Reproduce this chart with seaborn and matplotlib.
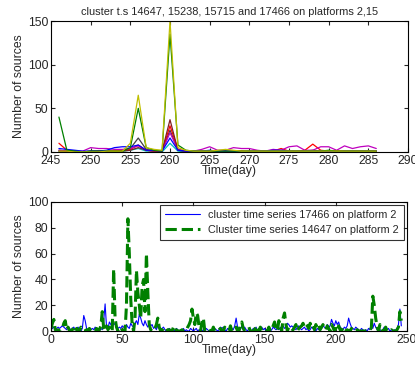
import numpy as np
import pandas as pd
import matplotlib
matplotlib.use("Agg")
import matplotlib.pyplot as plt
import seaborn as sns

sns.set_style("white")
plt.rcParams['font.family'] = ['Liberation Sans', 'DejaVu Sans']

# --- dados do grafico de cima (dias 246..286) ---
top_days = list(range(246, 287))

top_green = [40, 2, 1, 0, 1, 1, 1, 1, 1, 5, 50, 5, 2, 1, 135, 8, 2, 1, 1, 1, 1,
             1, 1, 1, 1, 1, 1, 1, 1, 1, 1, 1, 1, 1, 2, 1, 1, 1, 1, 1, 1]
top_yellow = [1, 1, 0, 0, 0, 0, 1, 1, 1, 10, 65, 5, 3, 2, 150, 5, 2, 1, 1, 1, 2,
              3, 2, 1, 1, 1, 1, 1, 1, 1, 1, 1, 1, 1, 1, 1, 1, 1, 1, 1, 1]
top_magenta = [2, 1, 1, 1, 5, 4, 4, 3, 3, 4, 7, 2, 1, 1, 22, 3, 1, 1, 3, 6, 2,
               2, 5, 4, 4, 2, 1, 3, 2, 6, 7, 2, 2, 6, 6, 2, 7, 4, 6, 7, 4]
top_red = [10, 2, 1, 0, 0, 1, 1, 1, 2, 3, 8, 2, 1, 1, 30, 3, 1, 0, 1, 1, 1,
           0, 1, 1, 0, 1, 1, 1, 4, 1, 1, 2, 9, 2, 1, 1, 1, 1, 1, 1, 1]
top_blue = [4, 3, 2, 1, 1, 1, 2, 5, 6, 6, 8, 2, 2, 1, 16, 2, 1, 1, 1, 2, 1,
            1, 1, 0, 1, 1, 1, 2, 2, 1, 1, 1, 1, 1, 1, 0, 1, 1, 1, 1, 1]
top_black = [2, 1, 1, 0, 1, 1, 1, 1, 2, 4, 16, 3, 1, 1, 25, 2, 1, 1, 1, 1, 1,
             1, 1, 1, 1, 1, 1, 1, 1, 1, 1, 1, 2, 1, 1, 1, 1, 1, 1, 1, 1]
top_brown = [1, 1, 1, 0, 1, 1, 1, 1, 1, 2, 5, 2, 1, 1, 37, 2, 1, 1, 1, 1, 1,
             1, 1, 1, 1, 1, 1, 1, 1, 1, 1, 1, 1, 1, 1, 1, 1, 1, 1, 1, 1]
top_cyan = [1, 1, 0, 0, 0, 0, 1, 1, 1, 2, 4, 1, 1, 0, 10, 1, 0, 0, 0, 1, 0,
            0, 0, 0, 0, 0, 0, 0, 1, 0, 0, 0, 0, 0, 0, 0, 0, 0, 0, 0, 0]

top_series = [
    (top_cyan, '#00bfbf'),
    (top_black, '#404040'),
    (top_red, '#ff0000'),
    (top_magenta, '#bf00bf'),
    (top_brown, '#7f2020'),
    (top_blue, '#0000ff'),
    (top_green, '#008000'),
    (top_yellow, '#bfbf00'),
]

# --- dados do grafico de baixo (dias 0..246) ---
bottom_days = list(range(0, 247))

series_17466 = [
    1, 2, 3, 1, 2, 3, 2, 3, 4, 3,
    2, 1, 3, 2, 1, 2, 3, 1, 2, 3,
    1, 0, 2, 12, 8, 2, 1, 0, 1, 2,
    1, 3, 2, 1, 0, 2, 1, 8, 21, 3,
    2, 7, 5, 3, 6, 5, 4, 2, 3, 2,
    4, 3, 2, 5, 3, 2, 6, 4, 3, 6,
    8, 5, 13, 10, 6, 4, 8, 5, 3, 6,
    4, 5, 2, 3, 1, 4, 2, 1, 2, 3,
    1, 0, 1, 2, 1, 0, 1, 0, 2, 1,
    0, 1, 0, 2, 0, 1, 0, 0, 2, 1,
    0, 1, 2, 0, 1, 0, 0, 1, 0, 2,
    1, 0, 0, 1, 0, 2, 1, 0, 1, 3,
    2, 3, 1, 0, 2, 1, 3, 2, 1, 4,
    10, 3, 2, 1, 4, 2, 3, 1, 0, 2,
    1, 0, 2, 1, 3, 0, 1, 2, 3, 1,
    2, 0, 1, 2, 0, 1, 3, 2, 1, 2,
    1, 3, 2, 4, 2, 3, 6, 5, 3, 4,
    3, 2, 1, 3, 4, 2, 1, 2, 3, 1,
    2, 0, 1, 3, 2, 1, 0, 2, 1, 3,
    2, 4, 3, 2, 5, 3, 4, 9, 6, 4,
    8, 5, 7, 3, 2, 1, 3, 2, 4, 10,
    6, 3, 2, 1, 3, 2, 1, 0, 2, 1,
    0, 1, 0, 2, 1, 3, 2, 6, 3, 1,
    2, 1, 0, 1, 3, 0, 1, 2, 0, 1,
    0, 1, 0, 2, 5, 17, 4]

series_14647 = [
    2, 6, 9, 1, 0, 1, 0, 0, 2, 6,
    8, 1, 3, 0, 0, 1, 3, 0, 2, 1,
    0, 3, 1, 0, 0, 1, 0, 2, 0, 0,
    1, 0, 2, 0, 1, 4, 15, 2, 0, 4,
    1, 3, 0, 0, 48, 10, 3, 0, 2, 0,
    1, 0, 0, 20, 87, 60, 25, 5, 0, 10,
    47, 30, 20, 10, 35, 40, 15, 60, 30, 5,
    1, 0, 0, 2, 5, 10, 3, 0, 1, 0,
    0, 2, 0, 1, 0, 0, 3, 0, 1, 0,
    0, 0, 1, 0, 0, 0, 3, 5, 8, 17,
    10, 5, 14, 12, 3, 0, 7, 10, 0, 0,
    0, 1, 0, 0, 3, 0, 0, 0, 1, 2,
    0, 0, 3, 1, 0, 0, 4, 0, 0, 1,
    3, 0, 0, 5, 7, 2, 0, 0, 1, 3,
    0, 0, 0, 1, 4, 0, 0, 3, 0, 0,
    1, 0, 0, 3, 0, 0, 4, 7, 2, 0,
    8, 3, 0, 10, 14, 5, 0, 3, 2, 0,
    1, 3, 5, 0, 2, 3, 4, 6, 3, 5,
    4, 2, 6, 3, 4, 1, 5, 2, 4, 1,
    3, 5, 2, 1, 4, 2, 0, 5, 3, 0,
    2, 0, 4, 1, 0, 3, 0, 0, 1, 0,
    0, 2, 0, 0, 0, 1, 0, 0, 0, 0,
    0, 0, 0, 0, 0, 3, 27, 20, 10, 3,
    0, 5, 2, 0, 0, 3, 0, 0, 0, 1,
    0, 0, 0, 1, 3, 15, 8]

fig = plt.figure(figsize=(4.15, 3.69), dpi=100)
ax1 = fig.add_axes([51 / 415, 1 - 152 / 369, 357 / 415, 131 / 369])
ax2 = fig.add_axes([51 / 415, 1 - 331 / 369, 356 / 415, 129 / 369])

# grafico de cima
for vals, c in top_series:
    sns.lineplot(x=top_days, y=vals, color=c, linewidth=0.9, ax=ax1)
ax1.set_xlim(245, 290)
ax1.set_ylim(0, 150)
ax1.set_xticks(range(245, 291, 5))
ax1.set_yticks([0, 50, 100, 150])
ax1.set_title('cluster t.s 14647, 15238, 15715 and 17466 on platforms 2,15',
              fontsize=7.9, pad=4)
ax1.set_xlabel('Time(day)', fontsize=8.8, labelpad=-1)
ax1.set_ylabel('Number of sources', fontsize=8.8, labelpad=2)

# grafico de baixo
sns.lineplot(x=bottom_days, y=series_17466, color='#0000ff', linewidth=0.8,
             ax=ax2, label='cluster time series 17466 on platform 2')
sns.lineplot(x=bottom_days, y=series_14647, color='#008000', linewidth=2.2,
             linestyle='--', dashes=(3, 2.2), ax=ax2,
             label='Cluster time series 14647 on platform 2')
ax2.set_xlim(0, 250)
ax2.set_ylim(0, 100)
ax2.set_xticks(range(0, 251, 50))
ax2.set_yticks(range(0, 101, 20))
ax2.set_xlabel('Time(day)', fontsize=8.8, labelpad=-1)
ax2.set_ylabel('Number of sources', fontsize=8.8, labelpad=2)
leg = ax2.legend(loc='upper right', fontsize=7.8, frameon=True, fancybox=False,
                 borderaxespad=0.3, handlelength=3.2, borderpad=0.45,
                 labelspacing=0.45)
leg.get_frame().set_edgecolor('black')
leg.get_frame().set_linewidth(0.8)

for ax in (ax1, ax2):
    ax.tick_params(direction='in', length=3, width=0.8, labelsize=8.8,
                   top=True, right=True, bottom=True, left=True, pad=2)
    for s in ax.spines.values():
        s.set_color('black')
        s.set_linewidth(0.8)

fig.savefig('out.png', dpi=100)
